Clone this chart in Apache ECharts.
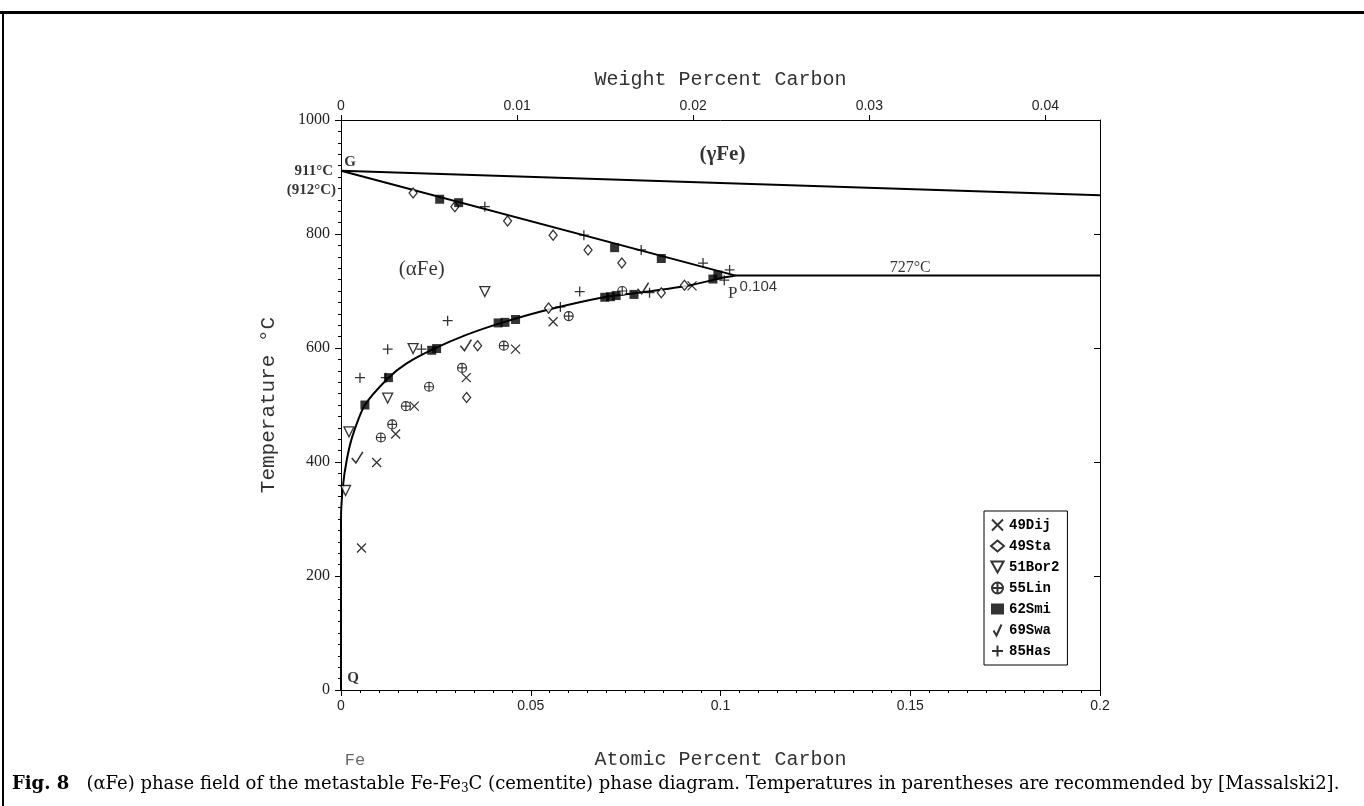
<!DOCTYPE html>
<html>
<head>
<meta charset="utf-8">
<script src="https://cdn.jsdelivr.net/npm/echarts@6/dist/echarts.min.js"></script>
<style>
html,body{margin:0;padding:0;background:#fff;}
#main{width:1364px;height:806px;}
</style>
</head>
<body>
<div id="main"></div>
<script>
// ---- Data (atomic % C, temperature °C) ----
const xTicksAt = [0, 0.05, 0.1, 0.15, 0.2];
const xTicksWt = [0, 0.01, 0.02, 0.03, 0.04];
const yTicks = [0, 200, 400, 600, 800, 1000];
const legendNames = ['49Dij', '49Sta', '51Bor2', '55Lin', '62Smi', '69Swa', '85Has'];

const dij49 = [[0.0054,249],[0.0094,399],[0.0144,449],[0.0193,498],[0.033,548],[0.046,598],[0.0559,646],[0.0925,709]];
const sta49 = [[0.019,872],[0.030,848],[0.0439,823],[0.0559,798],[0.0651,772],[0.074,749],[0.0331,513],[0.036,604],[0.0547,670],[0.0844,697],[0.0905,710]];
const bor51 = [[0.0012,350],[0.0021,453],[0.0123,512],[0.019,599],[0.0379,699]];
const lin55 = [[0.0105,443],[0.0135,466],[0.0171,498],[0.0232,532],[0.0319,565],[0.0429,604],[0.060,656],[0.0741,700]];
const smi62 = [[0.0063,500],[0.0125,548],[0.0239,596],[0.0252,599],[0.0414,644],[0.0432,645],[0.046,650],[0.0695,689],[0.071,690],[0.0725,692],[0.0772,694],[0.098,721],[0.0993,728],[0.026,861],[0.031,855],[0.0721,776],[0.0844,757]];
const swa69 = [[0.0043,408],[0.0329,605],[0.0796,705]];
const has85 = [[0.005,548],[0.0118,548],[0.0123,598],[0.0212,598],[0.0281,648],[0.0379,848],[0.064,798],[0.0791,772],[0.0954,749],[0.1024,737],[0.101,719],[0.0629,699],[0.0578,672],[0.0813,697]];

// phase boundaries
const gammaLine = [[0,911],[0.2,868]];
const gpLine = [[0,911],[0.104,727]];
const eutectoid = [[0.104,727],[0.2,727]];
const solvus = [[0,0],[0,300],[0.0005,357],[0.0015,403],[0.0030,445],[0.0063,500],[0.0124,547],[0.0173,573],[0.0243,598],[0.033,623],[0.0427,645],[0.055,668],[0.070,690],[0.081,699],[0.0927,711],[0.0997,722],[0.104,727]];

// annotations: text and [x, T]
const annotTexts = ['G','911°C','(912°C)','(γFe)','(αFe)','727°C','P','0.104','Q','Fe'];
const annotPos = [[0.0024,926],[0,911],[0,877],[0.1005,939],[0.0213,737],[0.150,740],[0.1032,696],[0.1045,707],[0.0032,21],[0.0037,-123]];

const WT_MAX = 0.0431;

const chart = echarts.init(document.getElementById('main'), null, {renderer:'canvas'});

const SERIF = '"Liberation Serif","DejaVu Serif",serif';
const DSERIF = '"DejaVu Serif","Liberation Serif",serif';
const MONO = '"Liberation Mono","DejaVu Sans Mono",monospace';
const SANS = '"Liberation Sans","DejaVu Sans",sans-serif';

function fmt(v){ return String(parseFloat(v.toFixed(4))); }

const strokeStyle = {color:'transparent', borderColor:'#000', borderWidth:1.3};
const markerSpecs = [
  {name:'49Dij', data:dij49, symbol:'path://M0,0L10,10M10,0L0,10', size:9, style:strokeStyle},
  {name:'49Sta', data:sta49, symbol:'diamond', size:[8,10], style:{color:'#fff', borderColor:'#000', borderWidth:1.3}},
  {name:'51Bor2', data:bor51, symbol:'path://M0,0L10,0L5,9Z', size:10, style:{color:'#fff', borderColor:'#000', borderWidth:1.3}},
  {name:'55Lin', data:lin55, symbol:'path://M10,5A5,5,0,1,1,0,5A5,5,0,1,1,10,5ZM0,5L10,5M5,0L5,10', size:9, style:{color:'#fff', borderColor:'#000', borderWidth:1.2}},
  {name:'62Smi', data:smi62, symbol:'rect', size:9, style:{color:'#000', borderColor:'#000', borderWidth:0}},
  {name:'69Swa', data:swa69, symbol:'path://M0,6L3,11L8,0', size:11, style:{color:'transparent', borderColor:'#000', borderWidth:1.6}},
  {name:'85Has', data:has85, symbol:'path://M5,0L5,10M0,5L10,5', size:10, style:strokeStyle}
];

const lineSeries = [gammaLine, gpLine, eutectoid, solvus].map((d, i) => ({
  type:'line', name:'boundary'+i, data:d, showSymbol:false, symbol:'none', silent:true,
  smooth: i === 3 ? 0.25 : false,
  lineStyle:{color:'#000', width:2}, z:2, xAxisIndex:0, yAxisIndex:0
}));

const scatterSeries = markerSpecs.map(s => ({
  type:'scatter', name:s.name, data:s.data, symbol:s.symbol, symbolSize:s.size,
  itemStyle:s.style, z:3, xAxisIndex:0, yAxisIndex:0
}));

const labelStyles = [
  {fontFamily:SERIF, fontWeight:'bold', fontSize:15, position:'inside'},
  {fontFamily:SERIF, fontWeight:'bold', fontSize:15, position:'left', distance:8},
  {fontFamily:SERIF, fontWeight:'bold', fontSize:15, position:'left', distance:5},
  {fontFamily:SERIF, fontWeight:'bold', fontSize:21, position:'inside'},
  {fontFamily:SERIF, fontSize:21, position:'inside'},
  {fontFamily:SERIF, fontSize:16, position:'inside'},
  {fontFamily:SERIF, fontSize:17, position:'inside'},
  {fontFamily:SANS, fontSize:15, position:'right', distance:2},
  {fontFamily:SERIF, fontWeight:'bold', fontSize:15, position:'inside'},
  {fontFamily:MONO, fontSize:17, position:'inside', color:'#444'}
];

const annotSeries = {
  type:'scatter', name:'annot', silent:true, clip:false, symbolSize:0, z:5,
  xAxisIndex:0, yAxisIndex:0,
  data: annotTexts.map((t, i) => ({
    value: annotPos[i],
    label: Object.assign({show:true, formatter:t, color:'#000'}, labelStyles[i])
  }))
};

const option = {
  animation:false,
  backgroundColor:'#fff',
  grid:{left:341, right:264, top:120, bottom:116, containLabel:false},
  legend:{
    data:legendNames, orient:'vertical', left:984, top:511,
    itemWidth:13, itemHeight:11, itemGap:7,
    padding:[7,8,7,6], borderColor:'#000', borderWidth:1, backgroundColor:'#fff',
    textStyle:{fontFamily:MONO, fontWeight:'bold', fontSize:14, color:'#000'},
    selectedMode:false
  },
  xAxis:[
    {type:'value', position:'bottom', min:0, max:0.2, interval:0.05,
     axisLine:{onZero:false, lineStyle:{color:'#000', width:1}},
     axisTick:{show:true, inside:false, length:6, lineStyle:{color:'#000'}},
     minorTick:{show:true, splitNumber:10, length:3, lineStyle:{color:'#000'}},
     splitLine:{show:false},
     axisLabel:{margin:9, fontFamily:SANS, fontSize:14, color:'#222', formatter:fmt},
     name:'Atomic Percent Carbon', nameLocation:'middle', nameGap:60,
     nameTextStyle:{fontFamily:MONO, fontSize:20, color:'#333'}},
    {type:'value', position:'top', min:0, max:WT_MAX, interval:0.01,
     axisLine:{onZero:false, lineStyle:{color:'#000', width:1}},
     axisTick:{show:true, inside:false, length:5, lineStyle:{color:'#000'}},
     splitLine:{show:false},
     axisLabel:{margin:7, fontFamily:SANS, fontSize:14, color:'#222', formatter:fmt, showMaxLabel:false},
     name:'Weight Percent Carbon', nameLocation:'middle', nameGap:30,
     nameTextStyle:{fontFamily:MONO, fontSize:20, color:'#333'}},
    {type:'value', position:'top', min:0, max:0.2, interval:0.05,
     axisLine:{show:false},
     axisTick:{show:true, inside:true, length:6, lineStyle:{color:'#000'}},
     minorTick:{show:true, splitNumber:10, length:3, lineStyle:{color:'#000'}},
     splitLine:{show:false}, axisLabel:{show:false}}
  ],
  yAxis:[
    {type:'value', position:'left', min:0, max:1000, interval:200,
     axisLine:{onZero:false, lineStyle:{color:'#000', width:1}},
     axisTick:{show:true, inside:false, length:6, lineStyle:{color:'#000'}},
     minorTick:{show:true, splitNumber:10, length:3, lineStyle:{color:'#000'}},
     splitLine:{show:false},
     axisLabel:{margin:11, fontFamily:SERIF, fontSize:16, color:'#222', formatter:v => String(v)},
     name:'Temperature °C', nameLocation:'middle', nameGap:62, nameRotate:90,
     nameTextStyle:{fontFamily:MONO, fontSize:21, color:'#333'}},
    {type:'value', position:'right', min:0, max:1000, interval:200,
     axisLine:{onZero:false, lineStyle:{color:'#000', width:1}},
     axisTick:{show:true, inside:true, length:6, lineStyle:{color:'#000'}},
     splitLine:{show:false}, axisLabel:{show:false}}
  ],
  graphic:[
    {type:'rect', shape:{x:0, y:11, width:1364, height:3}, style:{fill:'#000'}, silent:true},
    {type:'rect', shape:{x:2, y:11, width:2, height:795}, style:{fill:'#000'}, silent:true},
    {type:'text', left:12, top:775, silent:true,
     style:{
       text:'{b|Fig. 8}   (αFe) phase field of the metastable Fe-Fe{s|3}C (cementite) phase diagram. Temperatures in parentheses are recommended by [Massalski2].',
       font:'18px ' + DSERIF, fill:'#000',
       rich:{
         b:{fontFamily:DSERIF, fontWeight:'bold', fontSize:18, fill:'#000'},
         s:{fontFamily:DSERIF, fontSize:12, padding:[9,0,0,0], fill:'#000'}
       }
     }}
  ],
  series: lineSeries.concat(scatterSeries).concat([annotSeries])
};
chart.setOption(option);
</script>
</body>
</html>
